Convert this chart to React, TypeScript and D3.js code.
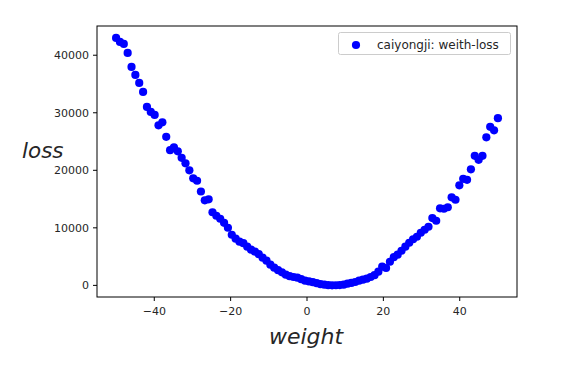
import React from 'react';
import * as d3 from 'd3';

// weight values (x) and the loss (y)
const weights = [
  -50, -48.99, -47.98, -46.97, -45.96, -44.95, -43.94, -42.93, -41.92, -40.91,
  -39.9, -38.89, -37.88, -36.87, -35.86, -34.85, -33.84, -32.83, -31.82, -30.81,
  -29.8, -28.79, -27.78, -26.77, -25.76, -24.75, -23.74, -22.73, -21.72, -20.71,
  -19.7, -18.69, -17.68, -16.67, -15.66, -14.65, -13.64, -12.63, -11.62, -10.61,
  -9.6, -8.59, -7.58, -6.57, -5.56, -4.55, -3.54, -2.53, -1.52, -0.51,
  0.51, 1.52, 2.53, 3.54, 4.55, 5.56, 6.57, 7.58, 8.59, 9.6,
  10.61, 11.62, 12.63, 13.64, 14.65, 15.66, 16.67, 17.68, 18.69, 19.7,
  20.71, 21.72, 22.73, 23.74, 24.75, 25.76, 26.77, 27.78, 28.79, 29.8,
  30.81, 31.82, 32.83, 33.84, 34.85, 35.86, 36.87, 37.88, 38.89, 39.9,
  40.91, 41.92, 42.93, 43.94, 44.95, 45.96, 46.97, 47.98, 48.99, 50,
];

const losses = [
  43000, 42310, 41960, 40400, 37970, 36580, 35190, 33630, 31020, 30150,
  29630, 27810, 28330, 25810, 23500, 24000, 23300, 22170, 21210, 20000,
  18610, 18180, 16320, 14790, 14960, 12710, 12100, 11580, 10880, 10020,
  8800, 8110, 7590, 7330, 6720, 6200, 5850, 5420, 4810, 4290,
  3590, 3070, 2640, 2260, 1860, 1600, 1460, 1340, 1080, 820,
  690, 560, 380, 210, 120, 40, 10, 20, 50, 130,
  300, 420, 590, 820, 990, 1160, 1460, 1770, 2380, 3250,
  3020, 4110, 4900, 5330, 6020, 6720, 7410, 8020, 8450, 9150,
  9670, 10190, 11700, 11230, 13400, 13320, 13580, 15310, 14880, 17390,
  18520, 18350, 20170, 22520, 21820, 22520, 25730, 27550, 26940, 29060,
];

const xTicks = [-40, -20, 0, 20, 40];
const yTicks = [0, 10000, 20000, 30000, 40000];
const legendLabel = 'caiyongji: weith-loss';

const W = 568;
const H = 372;
const plot = { left: 97, right: 517, top: 26, bottom: 297 };
const font = '"DejaVu Sans", sans-serif';
const textColor = '#262626';

export default function App() {
  const x = d3.scaleLinear().domain([-55, 55]).range([plot.left, plot.right]);
  const y = d3.scaleLinear().domain([-2020, 45080]).range([plot.bottom, plot.top]);
  const fmt = (v: number) => (v < 0 ? '\u2212' + Math.abs(v) : String(v));

  return (
    <div style={{ position: 'fixed', left: 0, top: 0 }}>
      <svg width={W} height={H} style={{ display: 'block', background: '#fff' }} fontFamily={font}>
        {weights.map((w, i) => (
          <circle key={i} cx={x(w)} cy={y(losses[i])} r={4.1} fill="#0000ff" />
        ))}

        <rect
          x={plot.left}
          y={plot.top}
          width={plot.right - plot.left}
          height={plot.bottom - plot.top}
          fill="none"
          stroke="#000"
          strokeWidth={1}
        />

        {/* x axis */}
        {xTicks.map((t) => (
          <g key={t} transform={`translate(${x(t)},${plot.bottom})`}>
            <line y1={0} y2={4} stroke="#000" strokeWidth={1} />
            <text y={18} textAnchor="middle" fontSize={11} fill={textColor}>
              {fmt(t)}
            </text>
          </g>
        ))}

        {/* y axis */}
        {yTicks.map((t) => (
          <g key={t} transform={`translate(${plot.left},${y(t)})`}>
            <line x1={-4} x2={0} stroke="#000" strokeWidth={1} />
            <text x={-8} dy="0.35em" textAnchor="end" fontSize={11} fill={textColor}>
              {t}
            </text>
          </g>
        ))}

        <text x={306} y={344} textAnchor="middle" fontSize={22} fontStyle="italic" fill={textColor}>
          weight
        </text>
        <text x={22} y={158} fontSize={21.5} fontStyle="italic" fill={textColor}>
          loss
        </text>

        {/* legend */}
        <g>
          <rect x={338.5} y={32.5} width={172} height={22} rx={2} fill="#fff" stroke="#cccccc" strokeWidth={1} />
          <circle cx={356} cy={45} r={4.1} fill="#0000ff" />
          <text x={377} y={48.5} fontSize={12} fill={textColor}>
            {legendLabel}
          </text>
        </g>
      </svg>
    </div>
  );
}
